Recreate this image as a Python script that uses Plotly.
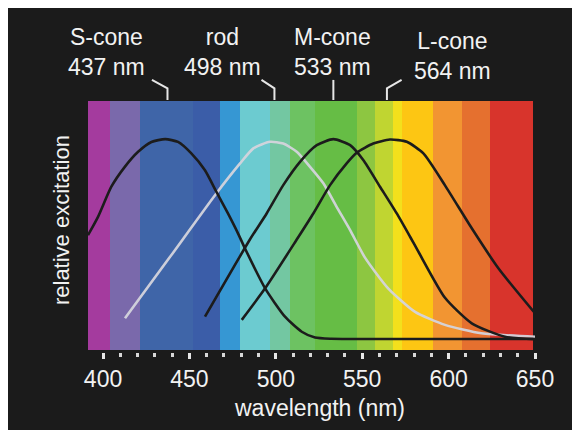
import plotly.graph_objects as go

# ---------------- data ----------------
band_edges = [391.3, 404.1, 421.4, 452.0, 467.7, 479.3, 496.6, 508.2, 522.7,
              547.0, 557.4, 567.8, 573.0, 591.0, 607.8, 624.0, 648.8]
band_colors = ["#a43b9e", "#7a69ab", "#3f65a8", "#3b5da8", "#3697d3", "#6ccbd0",
               "#73c7a2", "#6dc262", "#66bd45", "#8dc641", "#c0d531", "#f3e01c",
               "#fdc613", "#f29532", "#e5702f", "#d8342c"]

s_nm = [391.3, 397.1, 404.8, 412.6, 420.3, 428.0, 436.0, 443.4, 451.1, 458.9,
        465.6, 472.3, 478.1, 482.2, 493.8, 505.3, 515.0, 522.7, 532.0, 560.0,
        600.0, 649.0]
s_val = [0.522, 0.613, 0.763, 0.862, 0.937, 0.986, 1.0, 0.986, 0.929, 0.846,
         0.738, 0.63, 0.531, 0.455, 0.257, 0.116, 0.041, 0.012, 0.006, 0.005,
         0.005, 0.005]

rod_nm = [412.7, 438.8, 464.8, 479.3, 487.0, 496.6, 504.3, 512.1, 519.8, 527.5,
          535.2, 543.0, 551.6, 565.0, 580.6, 597.9, 619.0, 650.0]
rod_val = [0.108, 0.414, 0.721, 0.879, 0.954, 0.987, 0.978, 0.937, 0.862, 0.78,
           0.663, 0.547, 0.41, 0.257, 0.14, 0.075, 0.033, 0.016]

m_nm = [459.0, 485.0, 494.7, 504.3, 514.0, 523.7, 533.3, 543.0, 550.6, 560.3,
        570.0, 577.7, 582.5, 597.9, 613.4, 632.6, 650.0]
m_val = [0.116, 0.5, 0.63, 0.771, 0.887, 0.97, 1.0, 0.97, 0.896, 0.763,
         0.63, 0.514, 0.44, 0.21, 0.083, 0.016, 0.004]

l_nm = [480.3, 493.8, 512.1, 521.7, 531.4, 541.0, 546.8, 556.4, 566.0, 575.8,
        585.4, 597.9, 613.4, 628.8, 650.0]
l_val = [0.10, 0.257, 0.5, 0.63, 0.771, 0.879, 0.932, 0.978, 0.998, 0.987,
         0.929, 0.77, 0.556, 0.357, 0.133]

peak_names = ["S-cone", "rod", "M-cone", "L-cone"]
peak_nm = [437, 498, 533, 564]

tick_vals = [400, 450, 500, 550, 600, 650]
tick_text = ["400", "450", "500", "550", "600", "650"]

# ---------------- figure ----------------
BG = "#1b1b1b"
TXT = "#f2f2f2"
FONT = "Liberation Sans, Arial, sans-serif"
Y0, Y1 = -0.05, 1.19

fig = go.Figure()

centers = [(a + b) / 2 for a, b in zip(band_edges[:-1], band_edges[1:])]
widths = [b - a for a, b in zip(band_edges[:-1], band_edges[1:])]
fig.add_trace(go.Bar(x=centers, y=[Y1 - Y0] * len(centers), base=Y0, width=widths,
                     marker=dict(color=band_colors, line=dict(width=0)),
                     hoverinfo="skip", showlegend=False))

line_kw = dict(mode="lines", hoverinfo="skip", showlegend=False)
fig.add_trace(go.Scatter(x=rod_nm, y=rod_val,
                         line=dict(color="rgba(212,212,220,0.95)", width=2.6,
                                   shape="spline", smoothing=0.6), **line_kw))
for xs, ys in [(s_nm, s_val), (m_nm, m_val), (l_nm, l_val)]:
    fig.add_trace(go.Scatter(x=xs, y=ys,
                             line=dict(color="#1c1c1c", width=2.6,
                                       shape="spline", smoothing=0.6), **line_kw))

# leader lines + labels
leader_dx = [-9, -7.5, 0, 8.5]
label_dx = [-35, -29, 0, 38.5]
label_y = [1.434, 1.434, 1.434, 1.412]
for name, pk, ldx, tdx, ty in zip(peak_names, peak_nm, leader_dx, label_dx, label_y):
    xv = pk + (1.2 if name == "rod" else 0.3)
    fig.add_trace(go.Scatter(x=[xv, xv, xv + ldx], y=[1.195, 1.253, 1.295],
                             line=dict(color="#e6e6e6", width=2), **line_kw))
    fig.add_annotation(x=pk + tdx, y=ty, xref="x", yref="y",
                       text=f"{name}<br>{pk} nm", showarrow=False,
                       xanchor="center", yanchor="middle",
                       font=dict(family=FONT, size=23, color=TXT), align="center")

fig.add_annotation(x=0.519, y=-0.169, xref="paper", yref="paper",
                   text="wavelength (nm)", showarrow=False,
                   xanchor="center", yanchor="middle",
                   font=dict(family=FONT, size=23, color=TXT))
fig.add_annotation(x=-0.058, y=0.3976, xref="paper", yref="paper",
                   text="relative excitation", showarrow=False, textangle=-90,
                   xanchor="center", yanchor="middle",
                   font=dict(family=FONT, size=22, color=TXT))

fig.update_layout(
    width=580, height=430,
    margin=dict(l=80, r=53, t=12, b=86),
    paper_bgcolor=BG, plot_bgcolor=BG,
    barmode="overlay", bargap=0,
    showlegend=False,
    xaxis=dict(range=[391.3, 650], showgrid=False, zeroline=False, showline=False,
               tickvals=tick_vals, ticktext=tick_text, ticks="outside",
               ticklen=6, tickwidth=3, tickcolor="#e6e6e6",
               tickfont=dict(family=FONT, size=23, color=TXT),
               minor=dict(dtick=10, tick0=400, ticks="outside", ticklen=4, tickwidth=3,
                          tickcolor="#d8d8d8", showgrid=False)),
    yaxis=dict(range=[-0.06, 1.5934], visible=False, showgrid=False, zeroline=False),
)

fig.write_html("out.html")
